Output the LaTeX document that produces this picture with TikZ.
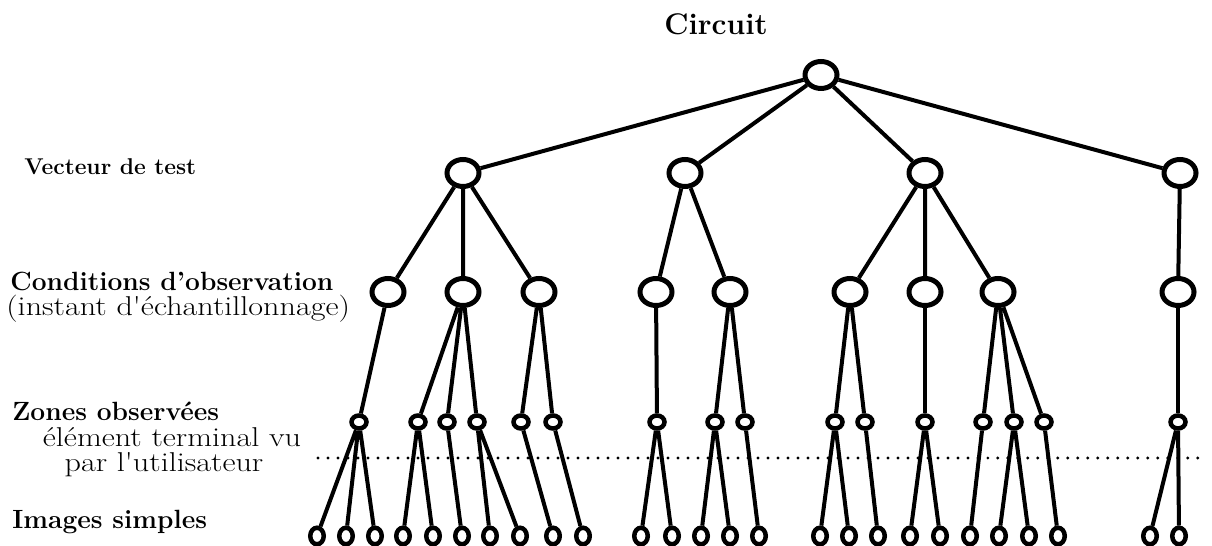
\documentclass[tikz,border=0pt]{standalone}
\usepackage{fontspec}
\usepackage{tikz}
\usetikzlibrary{shapes.geometric}
\newfontfamily\widerm{Latin Modern Roman}[FakeStretch=1.18]

\begin{document}
\begin{tikzpicture}[
    x=0.02cm, y=-0.02cm,
    bignode/.style={ellipse, draw, line width=0.1cm, minimum width=0.64cm, minimum height=0.54cm, inner sep=0pt},
    zonenode/.style={ellipse, draw, line width=0.09cm, minimum width=0.3cm, minimum height=0.26cm, inner sep=0pt},
    imgnode/.style={ellipse, draw, line width=0.09cm, minimum width=0.27cm, minimum height=0.33cm, inner sep=0pt},
    edge/.style={line width=0.08cm},
    dotline/.style={line width=0.065cm, line cap=round, dash pattern=on 0pt off 0.2cm},
    boldlabel/.style={anchor=base west, inner sep=0pt, font=\fontsize{15}{18}\selectfont\bfseries},
    plainlabel/.style={anchor=base, inner sep=0pt, font=\fontsize{15.5}{18}\selectfont\widerm}
]
    \useasboundingbox (0,0) rectangle (1212,546);

    % Level labels
    \node[anchor=base, inner sep=0pt, font=\fontsize{17}{20}\selectfont\bfseries] (title) at (716,35) {Circuit};
    \node[boldlabel, font=\fontsize{13}{16}\selectfont\bfseries] (lblvec) at (24,175) {Vecteur de test};
    \node[boldlabel] (lblcond) at (10,291) {Conditions d'observation};
    \node[plainlabel, anchor=base west] (lblinst) at (6,316) {(instant d'échantillonnage)};
    \node[boldlabel] (lblzone) at (12,420) {Zones observées};
    \node[plainlabel] (lblelem) at (172,446) {élément terminal vu};
    \node[plainlabel] (lblpar) at (164,471) {par l'utilisateur};
    \node[boldlabel] (lblimg) at (12,528) {Images simples};

    % Root
    \node[bignode] (root) at (821,75) {};

    % Test vectors
    \node[bignode] (vec1) at (463,173) {};
    \node[bignode] (vec2) at (685,173) {};
    \node[bignode] (vec3) at (925,173) {};
    \node[bignode] (vec4) at (1180,173) {};

    % Observation conditions
    \node[bignode] (cond1) at (388,292) {};
    \node[bignode] (cond2) at (463,292) {};
    \node[bignode] (cond3) at (539,292) {};
    \node[bignode] (cond4) at (656,292) {};
    \node[bignode] (cond5) at (730,292) {};
    \node[bignode] (cond6) at (850,292) {};
    \node[bignode] (cond7) at (925,292) {};
    \node[bignode] (cond8) at (998,292) {};
    \node[bignode] (cond9) at (1178,292) {};

    % Observed zones
    \node[zonenode] (zone1) at (359,422) {};
    \node[zonenode] (zone2) at (418,422) {};
    \node[zonenode] (zone3) at (447,422) {};
    \node[zonenode] (zone4) at (477,422) {};
    \node[zonenode] (zone5) at (521,422) {};
    \node[zonenode] (zone6) at (553,422) {};
    \node[zonenode] (zone7) at (657,422) {};
    \node[zonenode] (zone8) at (715,422) {};
    \node[zonenode] (zone9) at (745,422) {};
    \node[zonenode] (zone10) at (835,422) {};
    \node[zonenode] (zone11) at (865,422) {};
    \node[zonenode] (zone12) at (925,422) {};
    \node[zonenode] (zone13) at (983,422) {};
    \node[zonenode] (zone14) at (1014,422) {};
    \node[zonenode] (zone15) at (1044,422) {};
    \node[zonenode] (zone16) at (1178,422) {};

    % Simple images
    \node[imgnode] (img1) at (317,536) {};
    \node[imgnode] (img2) at (346,536) {};
    \node[imgnode] (img3) at (375,536) {};
    \node[imgnode] (img4) at (403,536) {};
    \node[imgnode] (img5) at (433,536) {};
    \node[imgnode] (img6) at (462,536) {};
    \node[imgnode] (img7) at (490,536) {};
    \node[imgnode] (img8) at (520,536) {};
    \node[imgnode] (img9) at (553,536) {};
    \node[imgnode] (img10) at (583,536) {};
    \node[imgnode] (img11) at (641,536) {};
    \node[imgnode] (img12) at (672,536) {};
    \node[imgnode] (img13) at (701,536) {};
    \node[imgnode] (img14) at (730,536) {};
    \node[imgnode] (img15) at (759,536) {};
    \node[imgnode] (img16) at (820,536) {};
    \node[imgnode] (img17) at (849,536) {};
    \node[imgnode] (img18) at (878,536) {};
    \node[imgnode] (img19) at (910,536) {};
    \node[imgnode] (img20) at (940,536) {};
    \node[imgnode] (img21) at (970,536) {};
    \node[imgnode] (img22) at (999,536) {};
    \node[imgnode] (img23) at (1029,536) {};
    \node[imgnode] (img24) at (1058,536) {};
    \node[imgnode] (img25) at (1150,536) {};
    \node[imgnode] (img26) at (1179,536) {};

    % Dotted separation
    \coordinate (dotL) at (318,458);
    \coordinate (dotR) at (1204,458);
    \draw[dotline] (dotL) -- (dotR);

    % Edges
    \draw[edge] (root) -- (vec1) (root) -- (vec2) (root) -- (vec3) (root) -- (vec4);
    \draw[edge] (vec1) -- (cond1) (vec1) -- (cond2) (vec1) -- (cond3);
    \draw[edge] (vec2) -- (cond4) (vec2) -- (cond5);
    \draw[edge] (vec3) -- (cond6) (vec3) -- (cond7) (vec3) -- (cond8);
    \draw[edge] (vec4) -- (cond9);
    \draw[edge] (cond1) -- (zone1);
    \draw[edge] (cond2) -- (zone2) (cond2) -- (zone3) (cond2) -- (zone4);
    \draw[edge] (cond3) -- (zone5) (cond3) -- (zone6);
    \draw[edge] (cond4) -- (zone7);
    \draw[edge] (cond5) -- (zone8) (cond5) -- (zone9);
    \draw[edge] (cond6) -- (zone10) (cond6) -- (zone11);
    \draw[edge] (cond7) -- (zone12);
    \draw[edge] (cond8) -- (zone13) (cond8) -- (zone14) (cond8) -- (zone15);
    \draw[edge] (cond9) -- (zone16);
    \draw[edge] (zone1) -- (img1) (zone1) -- (img2) (zone1) -- (img3);
    \draw[edge] (zone2) -- (img4) (zone2) -- (img5);
    \draw[edge] (zone3) -- (img6);
    \draw[edge] (zone4) -- (img7) (zone4) -- (img8);
    \draw[edge] (zone5) -- (img9);
    \draw[edge] (zone6) -- (img10);
    \draw[edge] (zone7) -- (img11) (zone7) -- (img12);
    \draw[edge] (zone8) -- (img13) (zone8) -- (img14);
    \draw[edge] (zone9) -- (img15);
    \draw[edge] (zone10) -- (img16) (zone10) -- (img17);
    \draw[edge] (zone11) -- (img18);
    \draw[edge] (zone12) -- (img19) (zone12) -- (img20);
    \draw[edge] (zone13) -- (img21);
    \draw[edge] (zone14) -- (img22) (zone14) -- (img23);
    \draw[edge] (zone15) -- (img24);
    \draw[edge] (zone16) -- (img25) (zone16) -- (img26);
\end{tikzpicture}
\end{document}
